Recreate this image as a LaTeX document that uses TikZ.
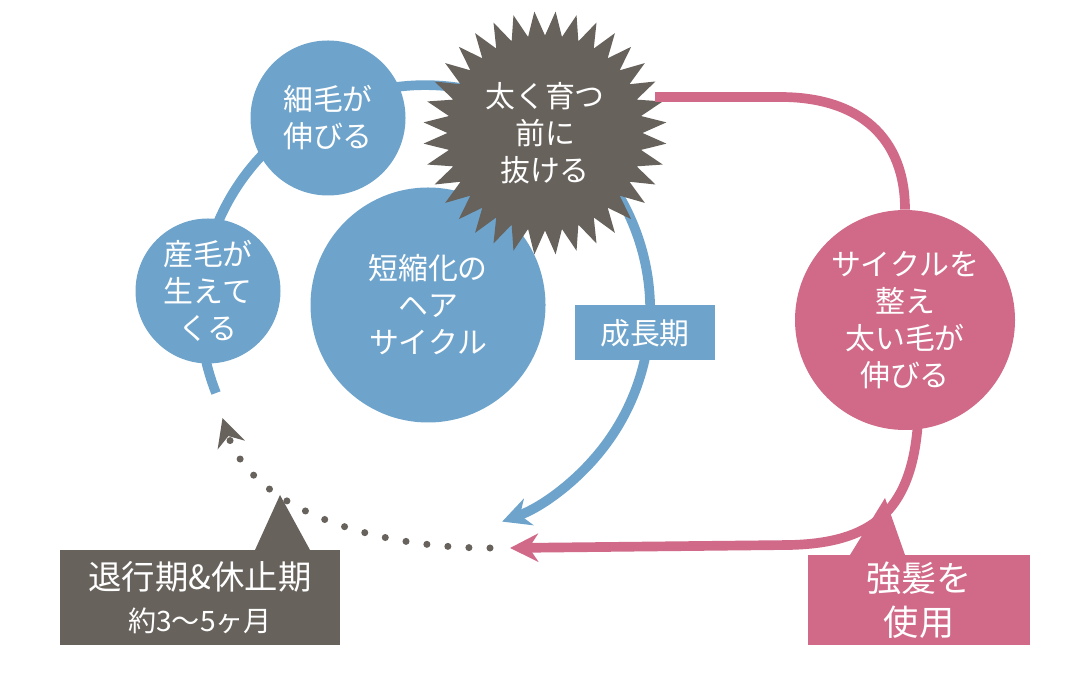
\documentclass[tikz,border=0pt]{standalone}
\usepackage{fontspec}
\setmainfont{Noto Sans CJK JP}
\usetikzlibrary{shapes.geometric, arrows.meta}
\definecolor{hairblue}{HTML}{6EA4CC}
\definecolor{hairpink}{HTML}{D06A88}
\definecolor{hairgray}{HTML}{67625C}
\begin{document}
\begin{tikzpicture}[
        > = {Stealth[length=16pt,width=16pt]}, % arrow head style
        every node/.style = {text = white, align = center, font = \fontsize{17}{21}\selectfont},
        bubble/.style = {circle, fill = hairblue, inner sep = 0pt},
        loop/.style = {line width = 5.5pt}
    ]
    \useasboundingbox (0,0) rectangle (21.66,13.66);
    % blue growth cycle
    \draw[loop, hairblue, ->] (4.32,5.80) arc (201.6:-70:4.5) coordinate (blueend);
    \node[bubble, minimum size = 4.7cm] (short) at (8.56,7.56) {短縮化の\\ヘア\\サイクル};
    \node[bubble, minimum size = 3.1cm] (thin) at (6.56,11.3) {細毛が\\伸びる};
    \node[bubble, minimum size = 2.9cm] (down) at (4.16,7.84) {産毛が\\生えて\\くる};
    \node[star, star points = 36, star point ratio = 0.8, fill = hairgray,
          minimum size = 3.9cm, inner sep = 0pt] (burst) at (10.9,11.0) {太く育つ\\前に\\抜ける};
    \node[fill = hairblue, minimum width = 2.8cm, minimum height = 1.1cm] (grow) at (12.9,7.0) {成長期};
    % pink route
    \node[circle, fill = hairpink, minimum size = 4.4cm, inner sep = 0pt] (thick) at (18.1,7.26) {サイクルを\\整え\\太い毛が\\伸びる};
    \coordinate (pinkstart) at (13.1,11.72);
    \coordinate (pinkend) at (10.2,2.70);
    \draw[loop, hairpink] (pinkstart) -- (15.6,11.72) .. controls (17.2,11.72) and (18.1,10.9) .. (thick.north);
    \draw[loop, hairpink, ->] (thick.south) ++(0.25,0.05) .. controls (18.2,3.4) and (17.4,2.8) .. (15.8,2.76) -- (pinkend);
    % dotted return
    \coordinate (dotstart) at (9.8,2.70);
    \coordinate (dotend) at (4.45,5.30);
    \draw[hairgray, line width = 4pt, dash pattern = on 0pt off 12pt, line cap = round, ->]
        (dotstart) .. controls (7.2,2.7) and (5.0,3.6) .. (dotend);
    % notes
    \fill[hairgray] (5.1,2.66) -- (5.6,3.76) -- (6.2,2.66) -- cycle;
    \node[fill = hairgray, minimum width = 5.6cm, minimum height = 1.9cm,
          font = \fontsize{19}{24}\selectfont] (rest) at (4.0,1.71)
        {退行期\&休止期\\{\fontsize{16}{20}\selectfont 約3〜5ヶ月}};
    \fill[hairpink] (17.0,2.56) -- (17.7,3.7) -- (18.1,2.56) -- cycle;
    \node[fill = hairpink, minimum width = 4.44cm, minimum height = 1.8cm,
          font = \fontsize{20}{25}\selectfont] (use) at (18.38,1.66) {強髪を\\使用};
\end{tikzpicture}
\end{document}
